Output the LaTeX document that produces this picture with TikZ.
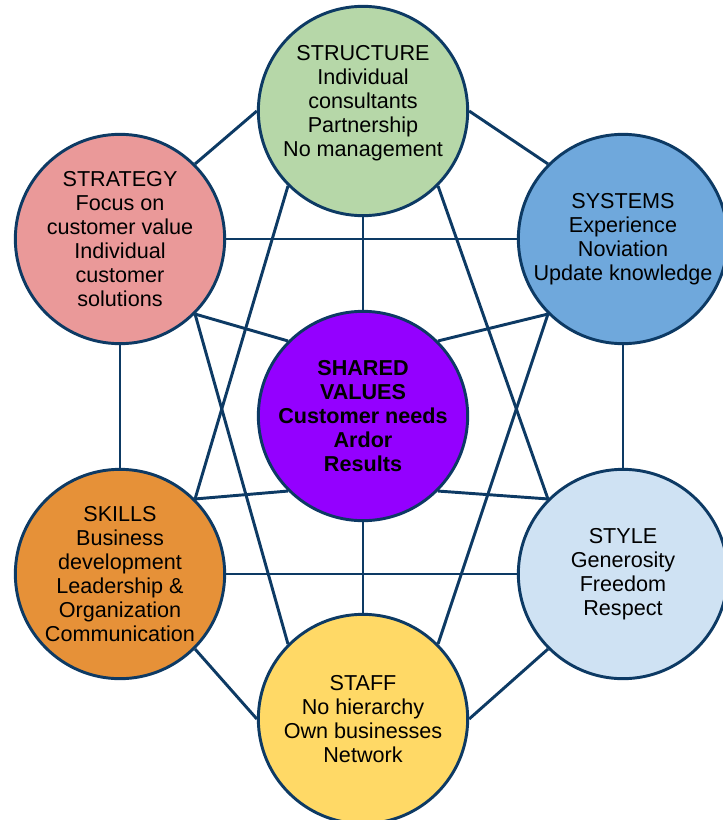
\documentclass[tikz,border=0pt]{standalone}
\usepackage{fontspec}
\setmainfont{Liberation Sans}
\usetikzlibrary{backgrounds}

\definecolor{edgecol}{HTML}{0D3A64}
\definecolor{structurecol}{HTML}{B6D7A8}
\definecolor{strategycol}{HTML}{EA9999}
\definecolor{systemscol}{HTML}{6FA8DC}
\definecolor{sharedcol}{HTML}{9400FF}
\definecolor{skillscol}{HTML}{E69138}
\definecolor{stylecol}{HTML}{CFE2F3}
\definecolor{staffcol}{HTML}{FFD966}

\tikzset{
  ball/.style={circle, draw=edgecol, line width=2.2pt, minimum size=157pt, inner sep=0pt},
  words/.style={align=center, inner sep=0pt, font=\fontsize{16.2}{18}\selectfont},
  link/.style={draw=edgecol, line width=2.2pt}
}

\begin{document}
\begin{tikzpicture}[x=0.75pt, y=-0.75pt]
\useasboundingbox (0,0) rectangle (722,820);

\coordinate (c1) at (363,111);
\coordinate (c2) at (120,239);
\coordinate (c3) at (623,239);
\coordinate (c4) at (363,416);
\coordinate (c5) at (120,574);
\coordinate (c6) at (623,574);
\coordinate (c7) at (363,719);

\node[ball, fill=structurecol] (structure) at (c1) {};
\node[ball, fill=strategycol] (strategy) at (c2) {};
\node[ball, fill=systemscol] (systems) at (c3) {};
\node[ball, fill=sharedcol] (shared) at (c4) {};
\node[ball, fill=skillscol] (skills) at (c5) {};
\node[ball, fill=stylecol] (style) at (c6) {};
\node[ball, fill=staffcol] (staff) at (c7) {};

\begin{scope}[on background layer]
\draw[link] (strategy.45) to (structure.180);
\draw[link] (structure.0) to (systems.135);
\draw[link] (strategy.0) to (systems.180);
\draw[link] (structure.270) to (shared.90);
\draw[link] (structure.225) to (skills.45);
\draw[link] (structure.315) to (style.135);
\draw[link] (strategy.315) to (shared.135);
\draw[link] (strategy.315) to (staff.135);
\draw[link] (systems.225) to (shared.45);
\draw[link] (systems.225) to (staff.45);
\draw[link] (skills.45) to (shared.225);
\draw[link] (skills.0) to (style.180);
\draw[link] (skills.315) to (staff.180);
\draw[link] (style.225) to (staff.0);
\draw[link] (style.135) to (shared.315);
\draw[link] (shared.270) to (staff.90);
\draw[link] (strategy.270) to (skills.90);
\draw[link] (systems.270) to (style.90);
\end{scope}

\node[words] (structure-t) at ([yshift=6pt]structure) {STRUCTURE\\Individual\\consultants\\Partnership\\No management};
\node[words] (strategy-t) at (strategy) {STRATEGY\\Focus on\\customer value\\Individual\\customer\\solutions};
\node[words] (systems-t) at (systems) {SYSTEMS\\Experience\\Noviation\\Update knowledge};
\node[words, font=\fontsize{16.2}{18}\selectfont\bfseries] (shared-t) at (shared) {SHARED\\VALUES\\Customer needs\\Ardor\\Results};
\node[words] (skills-t) at (skills) {SKILLS\\Business\\development\\Leadership \&\\Organization\\Communication};
\node[words] (style-t) at (style) {STYLE\\Generosity\\Freedom\\Respect};
\node[words] (staff-t) at (staff) {STAFF\\No hierarchy\\Own businesses\\Network};
\end{tikzpicture}
\end{document}
